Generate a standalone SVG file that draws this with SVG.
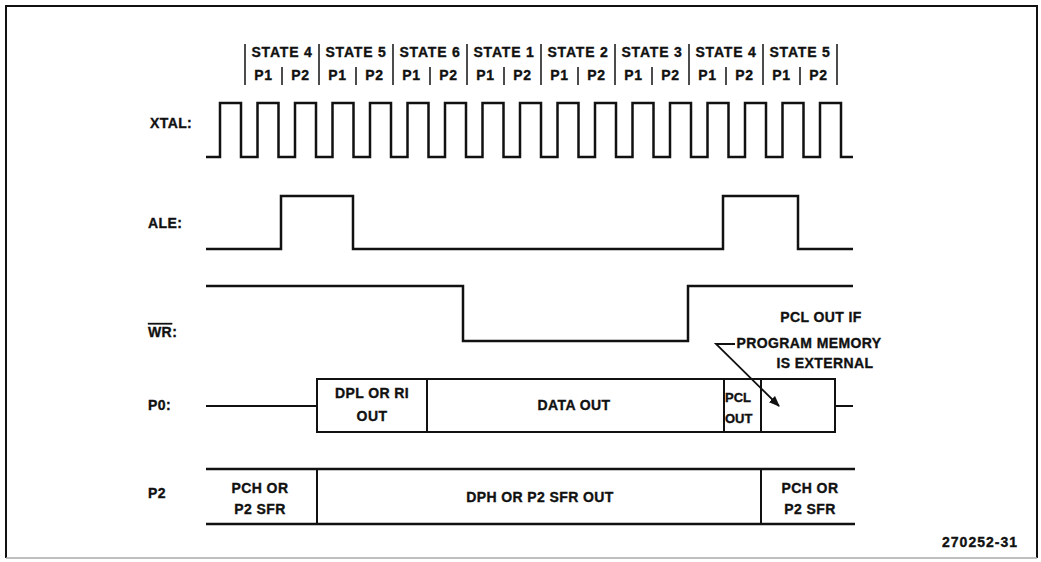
<svg xmlns="http://www.w3.org/2000/svg" width="1041" height="562" viewBox="0 0 1041 562">
<style>
.t{font-family:"Liberation Sans",Arial,Helvetica,sans-serif;font-weight:bold;font-size:14px;fill:#111;stroke:#111;stroke-width:0.35;letter-spacing:0.4px}
.h{letter-spacing:0.8px}
.s{font-size:13px;letter-spacing:0}
.w{fill:none;stroke:#111;stroke-width:2.5;stroke-linejoin:miter}
.b{fill:none;stroke:#111;stroke-width:2}
.bar{stroke:#111;stroke-width:1.5}
</style>
<defs>
<marker id="ah" viewBox="0 0 10 10" refX="9" refY="5" markerWidth="11" markerHeight="11" markerUnits="userSpaceOnUse" orient="auto">
<path d="M0,1 L10,5 L0,9 Z" fill="#111"/>
</marker>
</defs>
<rect width="1041" height="562" fill="#fff"/>
<g id="frame">
<path d="M6,558 V6 H1037 V558" class="b"/>
<path d="M6,558 H1037" stroke="#aaa" stroke-width="1.5" fill="none"/>
</g>
<g id="header">
<g class="bar">
<line x1="245" y1="44" x2="245" y2="85"/><line x1="319" y1="44" x2="319" y2="85"/>
<line x1="393" y1="44" x2="393" y2="85"/><line x1="467" y1="44" x2="467" y2="85"/>
<line x1="541" y1="44" x2="541" y2="85"/><line x1="615" y1="44" x2="615" y2="85"/>
<line x1="689" y1="44" x2="689" y2="85"/><line x1="763" y1="44" x2="763" y2="85"/>
<line x1="837" y1="44" x2="837" y2="85"/>
<line x1="282" y1="67" x2="282" y2="85"/><line x1="356" y1="67" x2="356" y2="85"/>
<line x1="430" y1="67" x2="430" y2="85"/><line x1="504" y1="67" x2="504" y2="85"/>
<line x1="578" y1="67" x2="578" y2="85"/><line x1="652" y1="67" x2="652" y2="85"/>
<line x1="726" y1="67" x2="726" y2="85"/><line x1="800" y1="67" x2="800" y2="85"/>
</g>
<g class="t h" text-anchor="middle">
<text x="282" y="57">STATE 4</text><text x="356" y="57">STATE 5</text>
<text x="430" y="57">STATE 6</text><text x="504" y="57">STATE 1</text>
<text x="578" y="57">STATE 2</text><text x="652" y="57">STATE 3</text>
<text x="726" y="57">STATE 4</text><text x="800" y="57">STATE 5</text>
<text x="263.5" y="80">P1</text><text x="300.5" y="80">P2</text>
<text x="337.5" y="80">P1</text><text x="374.5" y="80">P2</text>
<text x="411.5" y="80">P1</text><text x="448.5" y="80">P2</text>
<text x="485.5" y="80">P1</text><text x="522.5" y="80">P2</text>
<text x="559.5" y="80">P1</text><text x="596.5" y="80">P2</text>
<text x="633.5" y="80">P1</text><text x="670.5" y="80">P2</text>
<text x="707.5" y="80">P1</text><text x="744.5" y="80">P2</text>
<text x="781.5" y="80">P1</text><text x="818.5" y="80">P2</text>
</g>
</g>
<g id="xtal">
<text class="t" x="150" y="128">XTAL:</text>
<path class="w" d="M206,157 H220 V103 H241 V157 H257.5 V103 H278.5 V157 H295 V103 H316 V157 H332.5 V103 H353.5 V157 H370 V103 H391 V157 H407.5 V103 H428.5 V157 H445 V103 H466 V157 H482.5 V103 H503.5 V157 H520 V103 H541 V157 H557.5 V103 H578.5 V157 H595 V103 H616 V157 H632.5 V103 H653.5 V157 H670 V103 H691 V157 H707.5 V103 H728.5 V157 H745 V103 H766 V157 H782.5 V103 H803.5 V157 H820 V103 H841 V157 H853"/>
</g>
<g id="ale">
<text class="t" x="148" y="228">ALE:</text>
<path class="w" d="M206,249 H281 V196 H353 V249 H723 V196 H798 V249 H853"/>
</g>
<g id="wr">
<text class="t" x="148" y="337"><tspan style="text-decoration:overline">WR</tspan>:</text>
<path class="w" d="M206,286 H463 V341 H688 V286 H853"/>
</g>
<g id="p0">
<text class="t" x="148" y="410">P0:</text>
<path class="b" d="M206,406 H317 M835,406 H853"/>
<rect class="b" x="317" y="379" width="518" height="53"/>
<path class="b" d="M427,379 V432 M724,379 V432 M761,379 V432"/>
<g class="t" text-anchor="middle">
<text x="372" y="398">DPL OR RI</text>
<text x="372" y="421">OUT</text>
<text x="574" y="410">DATA OUT</text>
</g>
<text class="t s" x="725" y="402">PCL</text>
<text class="t s" x="725" y="423">OUT</text>
</g>
<g id="p2">
<text class="t" x="148" y="498">P2</text>
<path class="w" d="M206,469 H855 M206,524 H855"/>
<path class="b" d="M317,469 V524 M761,469 V524"/>
<g class="t" text-anchor="middle">
<text x="260" y="493">PCH OR</text>
<text x="260" y="514">P2 SFR</text>
<text x="540" y="502">DPH OR P2 SFR OUT</text>
<text x="810" y="493">PCH OR</text>
<text x="810" y="514">P2 SFR</text>
</g>
</g>
<g id="note">
<g class="t" text-anchor="middle">
<text x="821" y="322">PCL OUT IF</text>
<text x="809" y="348">PROGRAM MEMORY</text>
<text x="825" y="368">IS EXTERNAL</text>
</g>
</g>
<g id="connectors">
<path d="M735,344 H716 L779,406" fill="none" stroke="#111" stroke-width="1.8" marker-end="url(#ah)"/>
</g>
<text class="t" x="1018" y="547" text-anchor="end" style="letter-spacing:1px">270252-31</text>
</svg>
